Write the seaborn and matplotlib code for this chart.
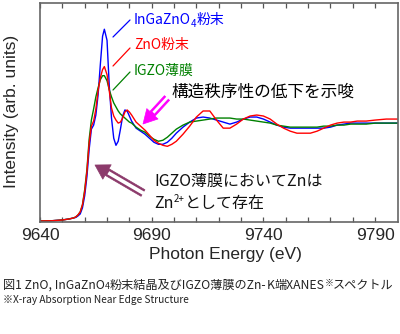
import numpy as np
import pandas as pd
import seaborn as sns
import matplotlib
matplotlib.use("Agg")
import matplotlib.pyplot as plt
from matplotlib.lines import Line2D

# ---------------- data ----------------
energy = [9640, 9645, 9650, 9653, 9655, 9656, 9657, 9658, 9659, 9660, 9661, 9662,
          9663, 9664, 9665, 9666, 9667, 9668, 9668.8, 9670, 9671, 9672, 9673, 9674,
          9675, 9676, 9677, 9678, 9679, 9680, 9681, 9683, 9685, 9687, 9689, 9691,
          9693, 9695, 9697, 9699, 9701, 9704, 9707, 9710, 9713, 9716, 9719, 9722,
          9725, 9728, 9731, 9734, 9737, 9740, 9743, 9746, 9749, 9752, 9755, 9758,
          9761, 9764, 9767, 9770, 9773, 9776, 9779, 9782, 9786, 9790, 9795, 9800]

ingazno4 = [0.01, 0.012, 0.02, 0.03, 0.04, 0.045, 0.06, 0.08, 0.14, 0.26, 0.45, 0.72,
            0.92, 0.96, 1.06, 1.26, 1.56, 1.84, 1.91, 1.80, 1.35, 1.03, 0.83, 0.76,
            0.80, 0.92, 1.05, 1.11, 1.10, 1.05, 1.00, 0.93, 0.90, 0.87, 0.83, 0.79,
            0.77, 0.77, 0.79, 0.83, 0.88, 0.94, 0.99, 1.03, 1.04, 1.03, 1.01, 0.99,
            0.97, 0.99, 1.02, 1.04, 1.04, 1.02, 0.99, 0.96, 0.94, 0.93, 0.93, 0.93,
            0.93, 0.93, 0.93, 0.94, 0.96, 0.97, 0.98, 0.98, 0.98, 0.98, 0.98, 0.98]

zno = [0.01, 0.012, 0.02, 0.03, 0.04, 0.05, 0.07, 0.10, 0.17, 0.30, 0.50, 0.78,
       0.95, 1.00, 1.12, 1.30, 1.43, 1.51, 1.54, 1.46, 1.30, 1.13, 1.05, 1.01,
       0.98, 0.99, 1.03, 1.09, 1.11, 1.09, 1.06, 0.99, 0.95, 0.91, 0.86, 0.81,
       0.78, 0.76, 0.75, 0.77, 0.80, 0.87, 0.95, 1.04, 1.10, 1.10, 1.01, 0.93,
       0.93, 0.97, 1.02, 1.05, 1.06, 1.05, 1.02, 0.97, 0.93, 0.90, 0.88, 0.88,
       0.88, 0.90, 0.93, 0.96, 0.98, 0.99, 0.99, 1.00, 1.00, 1.01, 1.02, 1.02]

igzo = [0.01, 0.012, 0.02, 0.03, 0.04, 0.05, 0.07, 0.10, 0.17, 0.32, 0.52, 0.82,
        1.01, 1.12, 1.24, 1.33, 1.41, 1.45, 1.45, 1.40, 1.31, 1.24, 1.18, 1.14,
        1.10, 1.07, 1.05, 1.03, 1.01, 0.99, 0.98, 0.94, 0.91, 0.89, 0.85, 0.82,
        0.80, 0.81, 0.84, 0.88, 0.92, 0.96, 0.99, 1.00, 1.01, 1.02, 1.03, 1.03,
        1.03, 1.02, 1.02, 1.01, 1.00, 0.99, 0.98, 0.96, 0.95, 0.94, 0.94, 0.94,
        0.94, 0.94, 0.95, 0.95, 0.96, 0.96, 0.97, 0.97, 0.97, 0.98, 0.98, 0.98]

series_names = ["InGaZnO4", "IGZO", "ZnO"]
series_colors = {"InGaZnO4": "#0000ff", "IGZO": "#008000", "ZnO": "#ff0000"}
xtick_major = [9640, 9690, 9740, 9790]

# ---------------- figure ----------------
sns.set_theme(style="ticks")
CJK = ["Noto Sans CJK JP", "DejaVu Sans"]
plt.rcParams["font.family"] = ["Liberation Sans", "Noto Sans CJK JP", "DejaVu Sans"]

W, H = 400, 334
fig = plt.figure(figsize=(W / 100, H / 100), dpi=100)
ax = fig.add_axes([40 / W, 1 - 222 / H, 357.5 / W, 219 / H])

df = pd.DataFrame({"energy": energy, "InGaZnO4": ingazno4, "ZnO": zno, "IGZO": igzo})
long = df.melt(id_vars="energy", var_name="sample", value_name="intensity")
sns.lineplot(data=long, x="energy", y="intensity", hue="sample", hue_order=series_names,
             palette=series_colors, estimator=None, linewidth=1.0, legend=False, ax=ax)

ax.set_xlim(9640, 9800)
ax.set_ylim(0, 2.17)
ax.set_xticks(xtick_major)
ax.set_xticklabels([str(t) for t in xtick_major])
ax.set_xticks(np.arange(9650, 9800, 10), minor=True)
ax.set_yticks([])
ax.tick_params(axis="x", which="both", direction="in", top=True, length=3.5, width=0.9,
               color="#555555", labelsize=12.5, pad=4.5)
for s in ax.spines.values():
    s.set_visible(True)
    s.set_color("#666666")
    s.set_linewidth(1.2)

ax.set_xlabel("Photon Energy (eV)", fontsize=12.5)
ax.xaxis.set_label_coords((225.5 - 40) / 357.5, (222 - 255) / 219)
ax.xaxis.label.set_va("center")
ax.set_ylabel("Intensity (arb. units)", fontsize=12.5)
ax.yaxis.set_label_coords((12 - 40) / 357.5, (222 - 111) / 219)
ax.yaxis.label.set_va("center")


def fx(px):
    return px / W


def fy(py):
    return 1 - py / H


renderer = fig.canvas.get_renderer()


def place(pieces, x, y):
    for s, kw in pieces:
        kw = dict(kw)
        dy = kw.pop("dy", 0)
        t = fig.text(fx(x), fy(y - dy), s, va="baseline", ha="left", **kw)
        x += t.get_window_extent(renderer).width


# series labels with leader lines
lab = dict(fontsize=10, family=CJK)
place([("InGaZnO", dict(lab, color="#0000ff")),
       ("4", dict(lab, color="#0000ff", fontsize=7, dy=-3)),
       ("粉末", dict(lab, color="#0000ff"))], 134, 24)
place([("ZnO粉末", dict(lab, color="#ff0000"))], 134, 49)
place([("IGZO薄膜", dict(lab, color="#008000"))], 134, 75)
for col, (x0, y0, x1, y1) in [("#0000ff", (113, 37, 130, 20)),
                              ("#ff0000", (113, 66, 130, 48)),
                              ("#008000", (113, 90, 130, 72))]:
    fig.add_artist(Line2D([fx(x0), fx(x1)], [fy(y0), fy(y1)], color=col, lw=0.9,
                          transform=fig.transFigure))

fig.text(fx(171), fy(92), "構造秩序性の低下を示唆", fontsize=12, va="center", ha="left",
         family=CJK, color="black")
fig.text(fx(154), fy(181), "IGZO薄膜においてZnは", fontsize=11.5, va="center", ha="left",
         family=CJK, color="#111111")

place([("Zn", dict(fontsize=11.5, family=CJK, color="#111111")),
       ("2+", dict(fontsize=7, family=CJK, color="#111111", dy=6)),
       ("として存在", dict(fontsize=11.5, family=CJK, color="#111111"))], 154, 208)


# arrows (hollow-shaft style)
def hollow_arrow(tail, head, color, tw, hw, hl, inner):
    ax.annotate("", xy=(head[0], H - head[1]), xycoords="figure pixels",
                xytext=(tail[0], H - tail[1]), textcoords="figure pixels",
                arrowprops=dict(arrowstyle=f"simple,head_length={hl},head_width={hw},tail_width={tw}",
                                fc=color, ec=color, lw=0.5, mutation_scale=10,
                                shrinkA=0, shrinkB=0))
    v = np.array(head, float) - np.array(tail, float)
    L = np.hypot(*v)
    end = np.array(tail, float) + v / L * (L - hl * 10 * 1.389 - 1.5)
    start = np.array(tail, float) - v / L * 1.0
    fig.add_artist(Line2D([fx(start[0]), fx(end[0])], [fy(start[1]), fy(end[1])],
                          color="white", lw=inner, solid_capstyle="butt",
                          transform=fig.transFigure))


hollow_arrow((167, 98), (143, 124), "#ff00ff", 0.5, 1.1, 1.0, 2.0)
hollow_arrow((143, 193), (95, 165), "#8c3a6b", 0.55, 1.2, 1.0, 2.6)

# caption
cap = dict(fontsize=8.75, family=CJK, color="#222222")
place([("図1 ZnO, InGaZnO", cap),
       ("4", dict(cap, fontsize=6.3, dy=0)),
       ("粉末結晶及びIGZO薄膜のZn-", cap),
       ("K", dict(cap, style="italic")),
       ("端XANES", cap),
       ("※", dict(cap, fontsize=6.3, dy=3)),
       ("スペクトル", cap)], 3, 289)
place([("※X-ray Absorption Near Edge Structure", dict(cap, fontsize=7.3))], 3, 303)

fig.savefig("out.png", dpi=100)
